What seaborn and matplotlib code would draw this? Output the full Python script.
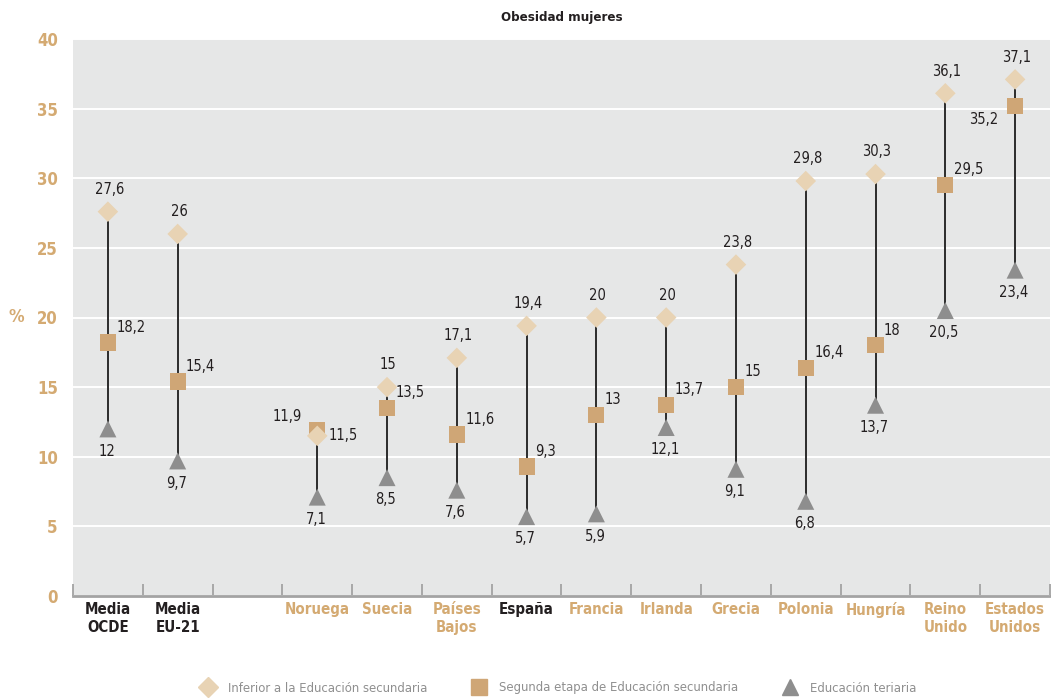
import numpy as np
import pandas as pd
import matplotlib
matplotlib.use("Agg")
import matplotlib.pyplot as plt
import seaborn as sns
from matplotlib.lines import Line2D

# ---- data ----
categories = ["Media\nOCDE", "Media\nEU-21", "", "Noruega", "Suecia", "Países\nBajos",
              "España", "Francia", "Irlanda", "Grecia", "Polonia", "Hungría",
              "Reino\nUnido", "Estados\nUnidos"]
inferior = [27.6, 26, np.nan, 11.5, 15, 17.1, 19.4, 20, 20, 23.8, 29.8, 30.3, 36.1, 37.1]
segunda = [18.2, 15.4, np.nan, 11.9, 13.5, 11.6, 9.3, 13, 13.7, 15, 16.4, 18, 29.5, 35.2]
terciaria = [12, 9.7, np.nan, 7.1, 8.5, 7.6, 5.7, 5.9, 12.1, 9.1, 6.8, 13.7, 20.5, 23.4]
dark_categories = ["Media\nOCDE", "Media\nEU-21", "España"]
series_names = ["Inferior a la Educación secundaria",
                "Segunda etapa de Educación secundaria",
                "Educación teriaria"]
title = "Obesidad mujeres"

# ---- style ----
TAN = "#d4aa72"
C_DIAM = "#e8d3b4"
C_SQ = "#cfa676"
C_TRI = "#8e8e8e"
BG = "#e6e7e7"
TXT = "#231f20"

sns.set_theme(style="white")
plt.rcParams["font.family"] = ["DejaVu Sans"]
plt.rcParams["font.stretch"] = "condensed"

fig = plt.figure(figsize=(10.51, 6.99), dpi=100)
ax = fig.add_axes([73 / 1051, 1 - 596 / 699, 977 / 1051, 557 / 699])
ax.set_facecolor(BG)

pos = np.arange(len(categories))
rows = []
for name, vals in [(series_names[2], terciaria), (series_names[1], segunda), (series_names[0], inferior)]:
    for p, v in zip(pos, vals):
        if not np.isnan(v):
            rows.append({"pos": p, "value": v, "nivel": name})
df = pd.DataFrame(rows)

# vertical range lines
lo = np.nanmin(np.array([inferior, segunda, terciaria]), axis=0)
hi = np.nanmax(np.array([inferior, segunda, terciaria]), axis=0)
valid = ~np.isnan(lo)
ax.vlines(pos[valid], lo[valid], hi[valid], color="#2b2b2b", lw=1.4, zorder=2)

markers = {series_names[0]: "D", series_names[1]: "s", series_names[2]: "^"}
palette = {series_names[0]: C_DIAM, series_names[1]: C_SQ, series_names[2]: C_TRI}
sizes = {series_names[0]: 110, series_names[1]: 135, series_names[2]: 150}
sns.scatterplot(data=df, x="pos", y="value", hue="nivel", style="nivel", size="nivel",
                markers=markers, palette=palette, sizes=sizes, linewidth=0,
                legend=False, ax=ax, zorder=3)

def fmt(v):
    return f"{v:g}".replace(".", ",")

LFS = 10.5
for p, (a, b, c) in enumerate(zip(inferior, segunda, terciaria)):
    if np.isnan(a):
        continue
    cat = categories[p]
    # diamond
    if cat == "Noruega":
        ax.annotate(fmt(a), (p, a), xytext=(8, 0), textcoords="offset points",
                    ha="left", va="center", fontsize=LFS, color=TXT)
    else:
        ax.annotate(fmt(a), (p, a), xytext=(1, 16), textcoords="offset points",
                    ha="center", va="center", fontsize=LFS, color=TXT)
    # square
    if cat == "Noruega":
        ax.annotate(fmt(b), (p, b), xytext=(-11, 10), textcoords="offset points",
                    ha="right", va="center", fontsize=LFS, color=TXT)
    elif cat == "Estados\nUnidos":
        ax.annotate(fmt(b), (p, b), xytext=(-12, -10), textcoords="offset points",
                    ha="right", va="center", fontsize=LFS, color=TXT)
    else:
        ax.annotate(fmt(b), (p, b), xytext=(6, 11), textcoords="offset points",
                    ha="left", va="center", fontsize=LFS, color=TXT)
    # triangle
    ax.annotate(fmt(c), (p, c), xytext=(-1, -16), textcoords="offset points",
                ha="center", va="center", fontsize=LFS, color=TXT)

# axes
ax.set_xlim(-0.5, len(categories) - 0.5)
ax.set_ylim(0, 40)
ax.set_yticks(np.arange(0, 41, 5))
ax.yaxis.grid(True, color="white", lw=1.4)
ax.set_axisbelow(True)
for s in ["left", "top", "right"]:
    ax.spines[s].set_visible(False)
ax.spines["bottom"].set_color("#a3a3a3")
ax.spines["bottom"].set_linewidth(2)

ax.set_xticks(pos)
ax.set_xticklabels(categories, fontsize=10.8, fontweight="bold", linespacing=1.25)
for lbl, cat in zip(ax.get_xticklabels(), categories):
    lbl.set_color(TXT if cat in dark_categories else TAN)
ax.set_xticks(np.arange(-0.5, len(categories), 1), minor=True)
ax.tick_params(axis="x", which="major", length=0, pad=4)
ax.tick_params(axis="x", which="minor", direction="in", length=9, width=1.3, color="#a3a3a3", bottom=True)
ax.tick_params(axis="y", length=0, pad=11, labelsize=12, labelcolor=TAN)
for lbl in ax.get_yticklabels():
    lbl.set_fontweight("bold")
ax.set_xlabel("")
ax.set_ylabel("%", rotation=0, fontsize=12.5, fontweight="bold", color=TAN, va="center", ha="center")
ax.yaxis.set_label_coords(-0.058, 0.5)

fig.text(0.535, 1 - 17 / 699, title, ha="center", va="center", fontsize=9.5, fontweight="bold", color=TXT)

handles = [Line2D([], [], ls="", marker="D", color=C_DIAM, markersize=10),
           Line2D([], [], ls="", marker="s", color=C_SQ, markersize=11),
           Line2D([], [], ls="", marker="^", color=C_TRI, markersize=11.5)]
leg = fig.legend(handles, series_names, loc="center", bbox_to_anchor=(0.531, 1 - 688 / 699),
                 ncol=3, frameon=False, fontsize=9.4, handlelength=1.2, handletextpad=0.9,
                 columnspacing=3.4, labelcolor="#8f8f8f")

fig.savefig("out.png", dpi=100)
